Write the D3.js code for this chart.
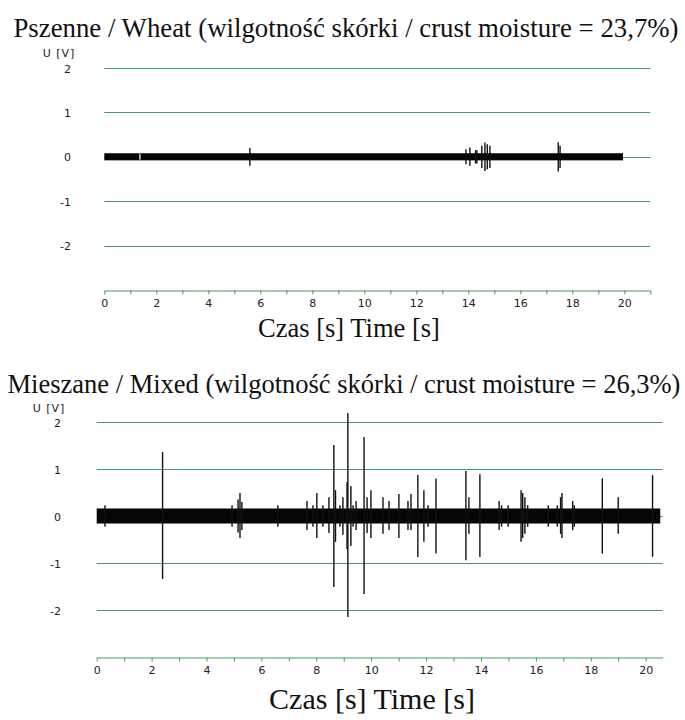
<!DOCTYPE html>
<html>
<head>
<meta charset="utf-8">
<script src="https://d3js.org/d3.v7.min.js"></script>
<style>
body {margin:0; background:#fff;}
.title, .xlab {font-family:"Liberation Serif","Times New Roman",serif; fill:#111;}
.tick text, .unit {font-family:"DejaVu Sans",Verdana,sans-serif; font-size:11px; fill:#222;}
</style>
</head>
<body>
<svg width="685" height="720"></svg>
<script>

// ---- values ----
const voltTicks = [-2, -1, 0, 1, 2];
const secTicksWheat = [0,1,2,3,4,5,6,7,8,9,10,11,12,13,14,15,16,17,18,19,20,21];
const secTicksMixed = [0,1,2,3,4,5,6,7,8,9,10,11,12,13,14,15,16,17,18,19,20];
const secLabels = [0,2,4,6,8,10,12,14,16,18,20];

// Pszenne / Wheat
const wheatTitle = "Pszenne / Wheat (wilgotność skórki / crust moisture = 23,7%)";
const wheatBand = [0, 19.95, 0.08];          // start [s], end [s], noise half-height [V]
const wheatGaps = [1.37];                     // short dropouts in the trace [s]
const wheatSpikes = [                         // [time s, max V, min V]
  [5.6, 0.2, -0.2],
  [13.91, 0.17, -0.17],
  [14.06, 0.21, -0.21],
  [14.28, 0.15, -0.15],
  [14.33, 0.15, -0.15],
  [14.52, 0.25, -0.25],
  [14.64, 0.32, -0.32],
  [14.73, 0.28, -0.28],
  [14.83, 0.25, -0.25],
  [17.46, 0.33, -0.33],
  [17.53, 0.25, -0.25]
];

// Mieszane / Mixed
const mixedTitle = "Mieszane / Mixed (wilgotność skórki / crust moisture = 26,3%)";
const mixedBand = [0, 20.53, 0.16];
const mixedSpikes = [
  [0.30, 0.23, -0.23], [2.40, 1.36, -1.34], [4.93, 0.23, -0.23], [5.15, 0.35, -0.35],
  [5.22, 0.49, -0.47], [5.29, 0.3, -0.3], [6.60, 0.23, -0.23], [7.66, 0.32, -0.3],
  [7.88, 0.23, -0.23], [8.02, 0.49, -0.47], [8.24, 0.23, -0.23], [8.46, 0.4, -0.36],
  [8.64, 1.51, -1.51], [8.70, 0.55, -0.55], [8.86, 0.23, -0.23], [8.97, 0.4, -0.4],
  [9.12, 0.72, -0.7], [9.15, 2.19, -2.15], [9.26, 0.64, -0.64], [9.34, 0.23, -0.23],
  [9.45, 0.32, -0.3], [9.74, 1.68, -1.66], [9.85, 0.4, -0.36], [9.99, 0.55, -0.47],
  [10.43, 0.4, -0.38], [10.65, 0.32, -0.3], [11.01, 0.47, -0.47], [11.34, 0.32, -0.3],
  [11.45, 0.47, -0.3], [11.70, 0.87, -0.87], [11.92, 0.55, -0.55], [12.07, 0.23, -0.23],
  [12.36, 0.8, -0.8], [13.45, 0.96, -0.94], [13.56, 0.4, -0.38], [13.96, 0.89, -0.87],
  [14.66, 0.32, -0.3], [14.75, 0.23, -0.23], [14.99, 0.23, -0.23], [15.46, 0.55, -0.55],
  [15.52, 0.49, -0.47], [15.60, 0.4, -0.38], [15.70, 0.23, -0.23], [16.45, 0.23, -0.23],
  [16.78, 0.23, -0.23], [16.90, 0.4, -0.38], [16.95, 0.49, -0.47], [17.34, 0.32, -0.3],
  [17.40, 0.23, -0.23], [18.42, 0.8, -0.8], [19.00, 0.4, -0.38], [20.25, 0.87, -0.87]
];

const green = "#439a63";
const svg = d3.select("svg");

function panel(o) {
  var x = d3.scaleLinear().domain([0, o.tMax]).range([o.x0, o.x1]);
  var y = d3.scaleLinear().domain([-3, 2]).range([o.yBot, o.yTop]);
  var g = svg.append("g");

  g.append("text").attr("class", "title")
    .attr("x", o.titleX).attr("y", o.titleY)
    .attr("text-anchor", "middle").style("font-size", o.titleSize + "px")
    .text(o.title);

  g.append("text").attr("class", "unit")
    .attr("x", o.unitX).attr("y", o.unitY)
    .attr("text-anchor", "middle").style("letter-spacing", "1px")
    .text("U [V]");

  // horizontal grid
  g.selectAll("line.grid").data(voltTicks).enter().append("line")
    .attr("class", "grid")
    .attr("x1", x(0)).attr("x2", x(o.tMax))
    .attr("y1", d => Math.round(y(d)) + 0.5).attr("y2", d => Math.round(y(d)) + 0.5)
    .attr("stroke", green).attr("stroke-width", 1);

  // voltage labels
  var ya = g.append("g").attr("transform", "translate(" + o.labelX + ",0.5)")
    .call(d3.axisLeft(y).tickValues(voltTicks).tickSize(0).tickPadding(0).tickFormat(d => String(d)));
  ya.select(".domain").remove();

  // time axis
  var xa = g.append("g").attr("transform", "translate(0," + (o.yBot + 0.5) + ")")
    .call(d3.axisBottom(x).tickValues(o.ticks).tickSize(4).tickSizeOuter(0).tickPadding(5)
      .tickFormat(d => secLabels.indexOf(d) >= 0 ? d : ""));
  xa.select(".domain").attr("stroke", green);
  xa.selectAll(".tick line").attr("stroke", green);

  g.append("text").attr("class", "xlab")
    .attr("x", o.xlabX).attr("y", o.xlabY)
    .attr("text-anchor", "middle").style("font-size", o.xlabSize + "px")
    .text("Czas [s] Time [s]");

  // noise floor of the signal
  g.append("rect")
    .attr("x", x(o.band[0])).attr("width", x(o.band[1]) - x(o.band[0]))
    .attr("y", y(o.band[2])).attr("height", y(-o.band[2]) - y(o.band[2]))
    .attr("fill", "#060606");

  g.selectAll("line.gap").data(o.gaps).enter().append("line")
    .attr("x1", d => x(d)).attr("x2", d => x(d))
    .attr("y1", y(o.band[2]) + 0.5).attr("y2", y(-o.band[2]) - 0.5)
    .attr("stroke", "#fff").attr("stroke-width", 1.2);

  // acoustic peaks
  g.selectAll("line.spike").data(o.spikes).enter().append("line")
    .attr("x1", d => x(d[0])).attr("x2", d => x(d[0]))
    .attr("y1", d => y(d[1])).attr("y2", d => y(d[2]))
    .attr("stroke", "#111").attr("stroke-width", 1.4);
}

panel({title: wheatTitle, band: wheatBand, gaps: wheatGaps, spikes: wheatSpikes, ticks: secTicksWheat,
  tMax: 21, x0: 104.3, x1: 650.3, yTop: 68, yBot: 290,
  titleX: 346, titleY: 37, titleSize: 26.8, unitX: 59, unitY: 57, labelX: 71,
  xlabX: 349, xlabY: 337, xlabSize: 26.5});

panel({title: mixedTitle, band: mixedBand, gaps: [], spikes: mixedSpikes, ticks: secTicksMixed,
  tMax: 20.62, x0: 96.7, x1: 662.7, yTop: 422, yBot: 657,
  titleX: 344, titleY: 393, titleSize: 26.5, unitX: 49, unitY: 412, labelX: 61,
  xlabX: 372, xlabY: 709, xlabSize: 30});

</script>
</body>
</html>
